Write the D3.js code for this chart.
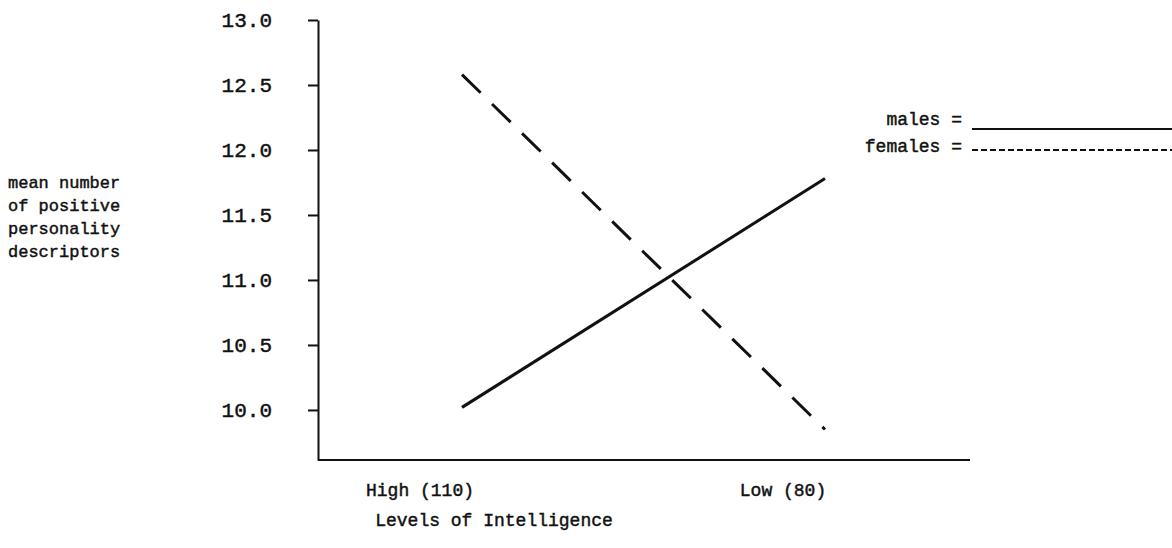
<!DOCTYPE html>
<html lang="en">
<head>
    <meta charset="UTF-8">
    <title>Positive Personality Descriptors by Intelligence</title>
    <script src="https://cdnjs.cloudflare.com/ajax/libs/d3/7.8.5/d3.min.js"></script>
    <style>
        body { margin: 0; background: #fff; }
        svg text {
            font-family: "Liberation Mono", "DejaVu Sans Mono", monospace;
            fill: #111;
            stroke: #111;
            stroke-width: 0.45px;
        }
        .axis path, .axis line { stroke: #111; stroke-width: 2; }
    </style>
</head>
<body>
    <div id="chart"></div>
    <script>
        // Chart values
        const levels = ["High (110)", "Low (80)"];
        const males = [10.02, 11.78];
        const females = [12.58, 9.85];
        const yTicks = [10.0, 10.5, 11.0, 11.5, 12.0, 12.5, 13.0];
        const yTitle = ["mean number", "of positive", "personality", "descriptors"];
        const xTitle = "Levels of Intelligence";
        const legendLabels = ["males =", "females ="];

        const width = 1172;
        const height = 548;

        const svg = d3.select("#chart").append("svg")
            .attr("width", width)
            .attr("height", height);

        // scales
        const y = d3.scaleLinear()
            .domain([9.615, 13.0])
            .range([460, 20]);

        const x = d3.scalePoint()
            .domain(levels)
            .range([462, 825]);

        // y axis
        const yAxis = d3.axisLeft(y)
            .tickValues(yTicks)
            .tickFormat(d3.format(".1f"))
            .tickSize(10)
            .tickSizeOuter(0)
            .tickPadding(36);

        const gy = svg.append("g")
            .attr("class", "axis")
            .attr("transform", "translate(318,0)")
            .call(yAxis);
        gy.selectAll("text")
            .style("font-size", "21px");

        // x axis: a plain line, labels sit a little left of the points
        svg.append("line")
            .attr("class", "axis")
            .attr("x1", 318).attr("x2", 970)
            .attr("y1", y.range()[0]).attr("y2", y.range()[0])
            .attr("stroke", "#111")
            .attr("stroke-width", 2);

        svg.append("g")
            .selectAll("text")
            .data(levels)
            .join("text")
            .attr("x", d => x(d) - 42)
            .attr("y", 496)
            .attr("text-anchor", "middle")
            .style("font-size", "18px")
            .text(d => d);

        svg.append("text")
            .attr("x", 494)
            .attr("y", 526)
            .attr("text-anchor", "middle")
            .style("font-size", "18px")
            .text(xTitle);

        // y title, stacked lines
        svg.append("g")
            .selectAll("text")
            .data(yTitle)
            .join("text")
            .attr("x", 8)
            .attr("y", (d, i) => 188 + i * 23)
            .style("font-size", "17px")
            .text(d => d);

        // series lines
        const line = d3.line()
            .x((d, i) => x(levels[i]))
            .y(d => y(d));

        svg.append("path")
            .datum(males)
            .attr("d", line)
            .attr("fill", "none")
            .attr("stroke", "#111")
            .attr("stroke-width", 3);

        svg.append("path")
            .datum(females)
            .attr("d", line)
            .attr("fill", "none")
            .attr("stroke", "#111")
            .attr("stroke-width", 3)
            .attr("stroke-dasharray", "26,16");

        // legend
        const legend = svg.append("g");
        legend.selectAll("text")
            .data(legendLabels)
            .join("text")
            .attr("x", 962)
            .attr("y", (d, i) => 125 + i * 27)
            .attr("text-anchor", "end")
            .style("font-size", "18px")
            .text(d => d);

        legend.append("line")
            .attr("x1", 972).attr("x2", 1172)
            .attr("y1", 129).attr("y2", 129)
            .attr("stroke", "#111")
            .attr("stroke-width", 2);

        legend.append("line")
            .attr("x1", 972).attr("x2", 1172)
            .attr("y1", 150).attr("y2", 150)
            .attr("stroke", "#111")
            .attr("stroke-width", 2)
            .attr("stroke-dasharray", "6,3");
    </script>
</body>
</html>
